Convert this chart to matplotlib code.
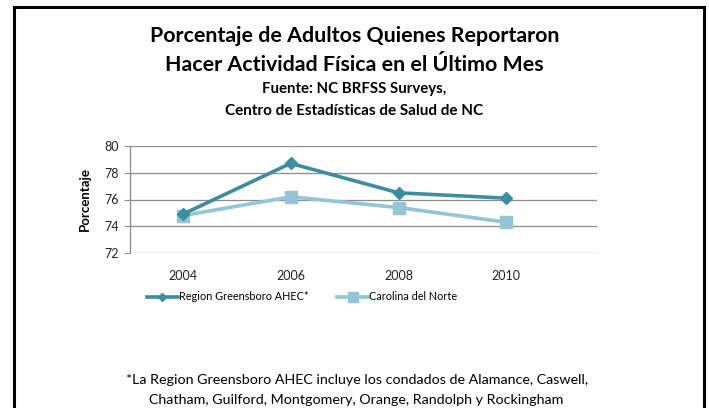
import matplotlib.pyplot as plt

plt.rcParams['font.family'] = ['Lato', 'DejaVu Sans']

# Data
years = ['2004', '2006', '2008', '2010']
greensboro = [74.9, 78.7, 76.5, 76.1]
carolina = [74.8, 76.2, 75.4, 74.3]
yticks = [72, 74, 76, 78, 80]

fig = plt.figure(figsize=(7.09, 4.08), dpi=100)

# outer frame (open at the bottom)
top = 1 - 6.5 / 408
lx, rx = 13.5 / 709, 704 / 709
for xs, ys in [([lx, lx], [0, top]), ([rx, rx], [0, top]), ([lx, rx], [top, top])]:
    fig.add_artist(plt.Line2D(xs, ys, color='black', lw=2.2, transform=fig.transFigure))

ax = fig.add_axes([130 / 709, 1 - 253 / 408, 467 / 709, 107 / 408])
x = range(len(years))
ax.plot(x, greensboro, color='#3A8E9F', lw=2.6, marker='D', ms=6, label='Region Greensboro AHEC*', zorder=3)
ax.plot(x, carolina, color='#93C5D4', lw=2.6, marker='s', ms=9, label='Carolina del Norte', zorder=2)

ax.set_xlim(-0.49, 3.84)
ax.set_ylim(72, 80)
ax.set_yticks(yticks)
ax.set_xticks(list(x))
ax.set_xticklabels(years)
ax.grid(axis='y', color='#8c8c8c', lw=0.9)
ax.set_axisbelow(True)
for s in ['top', 'right', 'bottom']:
    ax.spines[s].set_visible(False)
ax.spines['left'].set_color('#8c8c8c')
ax.spines['left'].set_linewidth(0.9)
ax.tick_params(axis='y', length=4, color='#8c8c8c', labelsize=9, labelcolor='#222222', pad=4)
ax.tick_params(axis='x', length=0, labelsize=9, labelcolor='#222222', pad=12)
ax.set_ylabel('Porcentaje', fontsize=9.5, fontweight='bold', labelpad=10)

fig.legend(loc='center', bbox_to_anchor=(302 / 709, 1 - 297 / 408), ncol=2, frameon=False,
           fontsize=7.8, handlelength=2.9, columnspacing=2.6, handletextpad=0.1, markerscale=0.75)

fig.text(0.5, 1 - 36 / 408, 'Porcentaje de Adultos Quienes Reportaron', ha='center', va='center',
         fontsize=15.4, fontweight='bold')
fig.text(0.5, 1 - 65 / 408, 'Hacer Actividad Física en el Último Mes', ha='center', va='center',
         fontsize=15.4, fontweight='bold')
fig.text(0.5, 1 - 89 / 408, 'Fuente: NC BRFSS Surveys,', ha='center', va='center',
         fontsize=10.8, fontweight='bold')
fig.text(0.5, 1 - 111 / 408, 'Centro de Estadísticas de Salud de NC', ha='center', va='center',
         fontsize=11, fontweight='bold')

fig.text(0.503, 1 - 380 / 408, '*La Region Greensboro AHEC incluye los condados de Alamance, Caswell,',
         ha='center', va='center', fontsize=10.3)
fig.text(0.503, 1 - 400 / 408, 'Chatham, Guilford, Montgomery, Orange, Randolph y Rockingham',
         ha='center', va='center', fontsize=10.3)

fig.savefig('out.png', dpi=100)
